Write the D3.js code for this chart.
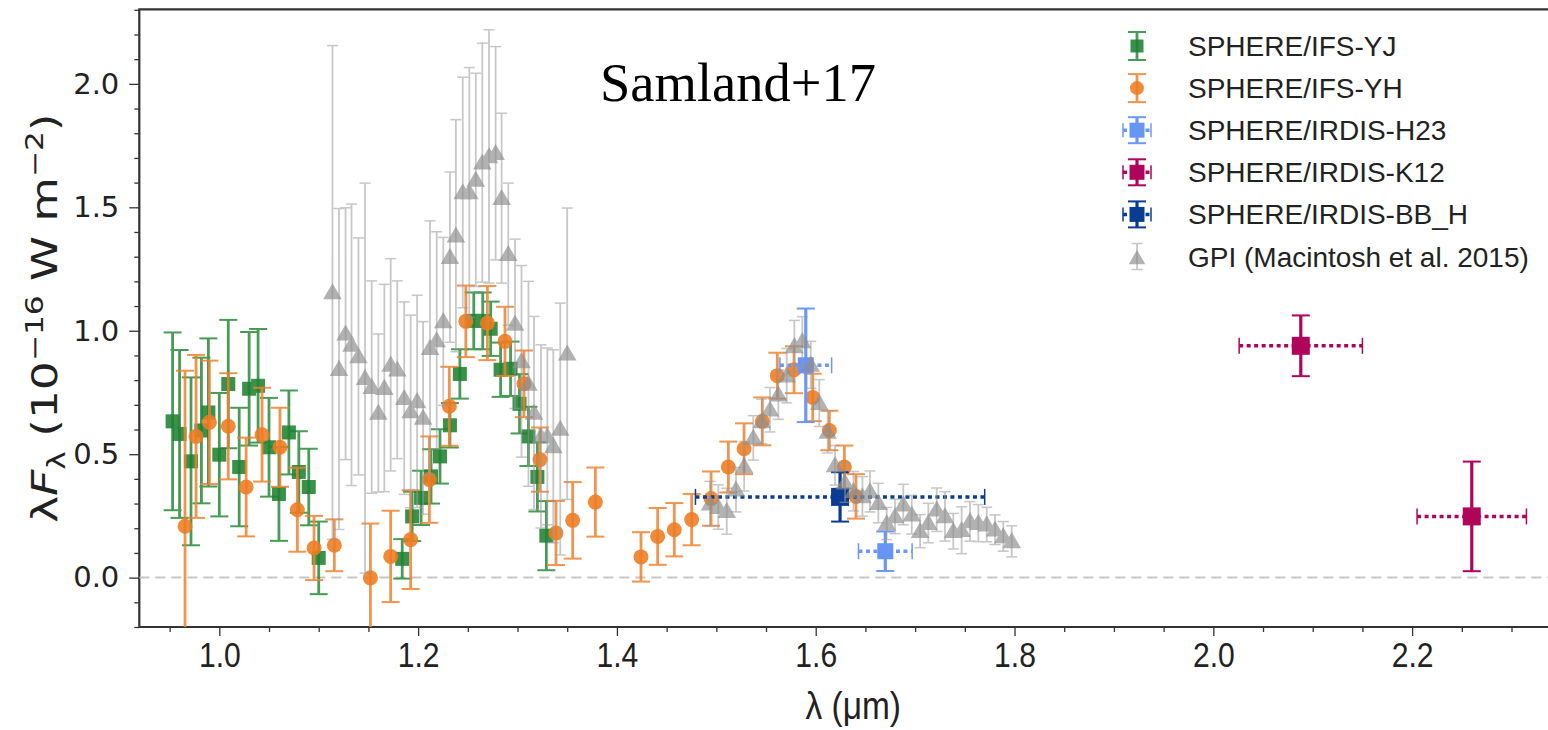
<!DOCTYPE html>
<html><head><meta charset="utf-8">
<script src="https://cdn.jsdelivr.net/npm/d3@7"></script>
<style>body{margin:0;background:#fff}svg{display:block}</style>
</head><body>
<svg id="chart" width="1548" height="730"></svg>
<script>
// SPHERE/IFS-YJ
const yjWave = [0.953,0.960,0.9715,0.982,0.989,1.000,1.009,1.020,1.030,1.039,1.050,1.060,1.070,1.080,1.090,1.100,
  1.184,1.194,1.203,1.213,1.222,1.232,1.242,1.256,1.265,1.273,1.283,1.293,1.302,1.311,1.320,1.329];
const yjFlux = [0.633,0.582,0.471,0.596,0.669,0.498,0.784,0.448,0.765,0.777,0.528,0.339,0.588,0.428,0.367,0.080,
  0.076,0.248,0.323,0.410,0.491,0.617,0.825,1.040,1.040,1.008,0.842,0.846,0.704,0.572,0.408,0.170];
const yjErr = [0.36,0.34,0.34,0.295,0.30,0.25,0.26,0.24,0.23,0.23,0.20,0.19,0.17,0.165,0.155,0.147,
  0.08,0.10,0.11,0.11,0.11,0.09,0.10,0.115,0.115,0.11,0.11,0.11,0.12,0.12,0.14,0.14];

// SPHERE/IFS-YH
const yhWave = [0.9655,0.9766,0.990,1.009,1.027,1.043,1.061,1.0785,1.0953,1.1157,1.152,1.1724,1.1925,1.2113,
  1.2314,1.248,1.2697,1.2874,1.3065,1.3226,1.3387,1.3555,1.3783,1.4242,1.441,1.4577,1.4752,1.4947,1.5121,
  1.5279,1.5463,1.5614,1.5782,1.597,1.6137,1.6288,1.6405];
const yhFlux = [0.208,0.572,0.629,0.613,0.367,0.579,0.528,0.275,0.120,0.131,-0.001,0.086,0.154,0.397,
  0.694,1.038,1.031,0.957,0.785,0.478,0.181,0.232,0.306,0.084,0.167,0.194,0.235,0.320,0.448,
  0.522,0.633,0.818,0.842,0.730,0.596,0.448,0.329];
const yhErr = [0.63,0.33,0.25,0.215,0.20,0.19,0.16,0.17,0.13,0.105,0.22,0.185,0.20,0.175,
  0.16,0.145,0.15,0.14,0.135,0.13,0.13,0.155,0.14,0.10,0.115,0.108,0.104,0.11,0.103,
  0.103,0.097,0.093,0.095,0.096,0.08,0.087,0.09];

// SPHERE/IRDIS photometry (value, flux error, half filter width)
const h23Wave = [1.590,1.670], h23Flux = [0.860,0.107], h23Err = [0.23,0.08], h23Width = [0.026,0.027];
const k12Wave = [2.088,2.260], k12Flux = [0.939,0.248], k12Err = [0.123,0.222], k12Width = [0.062,0.055];
const bbhWave = [1.6245], bbhFlux = [0.327], bbhErr = [0.10], bbhWidth = [0.1455];

// GPI (Macintosh et al. 2015)
const gpiWave = [1.1138,1.1204,1.127,1.133,1.140,1.1466,1.1533,1.160,1.166,1.1724,1.179,1.186,1.1925,1.199,1.205,
  1.212,1.2187,1.2253,1.232,1.238,1.2449,1.2515,1.258,1.2646,1.2713,1.278,1.284,1.2907,1.2975,1.304,1.311,
  1.3166,1.3236,1.330,1.336,1.343,1.350,
  1.4937,1.502,1.5105,1.5198,1.528,1.5372,1.5457,1.554,1.5624,1.5708,1.5785,1.5865,1.595,1.6036,1.612,1.6194,
  1.6295,1.638,1.647,1.6546,1.663,1.6714,1.6798,1.6881,1.6966,1.705,1.7133,1.7217,1.730,1.7384,1.7468,1.7552,
  1.7636,1.772,1.7804,1.7887,1.7972];
const gpiFlux = [1.155,0.845,0.988,0.943,0.896,0.808,0.772,0.667,0.768,0.862,0.842,0.727,0.673,0.714,0.647,
  0.930,0.961,1.038,1.298,1.385,1.560,1.560,1.611,1.681,1.706,1.719,1.537,1.310,1.028,0.876,0.785,
  0.667,0.572,0.572,0.532,0.602,0.907,
  0.300,0.286,0.269,0.356,0.451,0.566,0.633,0.680,0.741,0.818,0.937,0.957,0.862,0.707,0.590,0.455,
  0.385,0.350,0.329,0.349,0.302,0.219,0.248,0.296,0.255,0.188,0.221,0.275,0.248,0.188,0.192,0.228,
  0.221,0.215,0.194,0.167,0.147];
const gpiErr = [1.00,0.65,0.51,0.57,0.48,0.79,0.43,0.32,0.42,0.43,0.36,0.39,0.39,0.43,0.39,
  0.515,0.44,0.34,0.345,0.47,0.467,0.506,0.432,0.484,0.513,0.432,0.344,0.288,0.343,0.388,0.415,
  0.391,0.371,0.358,0.391,0.51,0.59,
  0.09,0.09,0.093,0.09,0.10,0.09,0.09,0.09,0.10,0.11,0.105,0.10,0.095,0.095,0.085,0.08,
  0.08,0.08,0.08,0.083,0.08,0.065,0.07,0.082,0.078,0.067,0.08,0.088,0.10,0.072,0.095,0.08,
  0.075,0.07,0.06,0.06,0.063];

const legendLabels = ["SPHERE/IFS-YJ","SPHERE/IFS-YH","SPHERE/IRDIS-H23","SPHERE/IRDIS-K12","SPHERE/IRDIS-BB_H","GPI (Macintosh et al. 2015)"];
const xTicks = [1.0,1.2,1.4,1.6,1.8,2.0,2.2];
const yTicks = [0.0,0.5,1.0,1.5,2.0];

(function () {
const svg = d3.select("#chart");
const pLeft = 139.3, pTop = 9.3, pBottom = 627;
const x = d3.scaleLinear().domain([0.9195, 2.356]).range([pLeft, pLeft + (2.356 - 0.9195) * 994]);
const y = d3.scaleLinear().domain([-0.2, 2.302]).range([pBottom, pTop]);
const pRight = x.range()[1];

svg.append("defs").append("clipPath").attr("id", "plotclip")
  .append("rect").attr("x", pLeft).attr("y", pTop).attr("width", pRight - pLeft).attr("height", pBottom - pTop);

// axes
const fmt = d3.format(".1f");
const xMinor = d3.range(0.95, 2.356, 0.05).filter(v => !xTicks.some(t => Math.abs(t - v) < 1e-6));
const yMinor = d3.range(-0.2, 2.31, 0.1).filter(v => !yTicks.some(t => Math.abs(t - v) < 1e-6));

const gx = svg.append("g").attr("transform", `translate(0,${pBottom})`);
gx.call(d3.axisBottom(x).tickValues(xTicks).tickFormat(fmt).tickSize(9).tickPadding(6));
gx.append("g").call(d3.axisBottom(x).tickValues(xMinor).tickFormat("").tickSize(5));
gx.selectAll(".domain").remove();
gx.selectAll("line").attr("stroke", "#333").attr("stroke-width", 1.3);
gx.selectAll("text").attr("font-family", "Liberation Sans, Arial, sans-serif").attr("font-size", 35)
  .attr("fill", "#222").attr("transform", "scale(0.86,1)");

const gy = svg.append("g").attr("transform", `translate(${pLeft},0)`);
gy.call(d3.axisLeft(y).tickValues(yTicks).tickFormat(fmt).tickSize(10).tickPadding(10));
gy.append("g").call(d3.axisLeft(y).tickValues(yMinor).tickFormat("").tickSize(5));
gy.selectAll(".domain").remove();
gy.selectAll("line").attr("stroke", "#333").attr("stroke-width", 1.3);
gy.selectAll("text").attr("font-family", "DejaVu Sans, sans-serif").attr("font-size", 29).attr("fill", "#222");

// frame (right edge runs past the canvas)
svg.append("path")
  .attr("d", `M${pRight + 20},${pTop}H${pLeft}V${pBottom}H${pRight + 20}`)
  .attr("fill", "none").attr("stroke", "#333").attr("stroke-width", 2.2);

const plot = svg.append("g").attr("clip-path", "url(#plotclip)");

// zero level
plot.append("line").attr("x1", pLeft).attr("x2", pRight).attr("y1", y(0)).attr("y2", y(0))
  .attr("stroke", "#c6c6c6").attr("stroke-width", 2).attr("stroke-dasharray", "10,6");

function zip(w, f, e, xe) {
  return w.map((d, i) => ({ l: d, v: f[i], e: e[i], xe: xe ? xe[i] : 0 }));
}

function errorbars(g, data, o) {
  const eg = g.append("g").attr("opacity", o.opacity);
  eg.selectAll(".ev").data(data).join("line")
    .attr("x1", d => x(d.l)).attr("x2", d => x(d.l))
    .attr("y1", d => y(d.v - d.e)).attr("y2", d => y(d.v + d.e))
    .attr("stroke", o.ecolor).attr("stroke-width", o.ew);
  [1, -1].forEach(s => {
    eg.append("g").selectAll("line").data(data).join("line")
      .attr("x1", d => x(d.l) - o.cap).attr("x2", d => x(d.l) + o.cap)
      .attr("y1", d => y(d.v + s * d.e)).attr("y2", d => y(d.v + s * d.e))
      .attr("stroke", o.ecolor).attr("stroke-width", o.capw);
  });
  const hx = data.filter(d => d.xe > 0);
  eg.append("g").selectAll("line").data(hx).join("line")
    .attr("x1", d => x(d.l - d.xe)).attr("x2", d => x(d.l + d.xe))
    .attr("y1", d => y(d.v)).attr("y2", d => y(d.v))
    .attr("stroke", o.ecolor).attr("stroke-width", 3.5).attr("stroke-dasharray", "4,3.5");
  [1, -1].forEach(s => {
    eg.append("g").selectAll("line").data(hx).join("line")
      .attr("x1", d => x(d.l + s * d.xe)).attr("x2", d => x(d.l + s * d.xe))
      .attr("y1", d => y(d.v) - 8).attr("y2", d => y(d.v) + 8)
      .attr("stroke", o.ecolor).attr("stroke-width", 1.5);
  });
}

function markers(g, data, o) {
  const mg = g.append("g").attr("opacity", o.mopacity);
  if (o.shape === "square") {
    mg.selectAll("rect").data(data).join("rect")
      .attr("x", d => x(d.l) - o.size / 2).attr("y", d => y(d.v) - o.size / 2)
      .attr("width", o.size).attr("height", o.size).attr("fill", o.color);
  } else if (o.shape === "circle") {
    mg.selectAll("circle").data(data).join("circle")
      .attr("cx", d => x(d.l)).attr("cy", d => y(d.v)).attr("r", o.size / 2).attr("fill", o.color);
  } else {
    const tri = d3.symbol().type(d3.symbolTriangle).size(o.size * o.size * 0.55);
    mg.selectAll("path").data(data).join("path")
      .attr("transform", d => `translate(${x(d.l)},${y(d.v) + 1.5})`)
      .attr("d", tri).attr("fill", o.color);
  }
}

const styles = [
  { data: zip(yjWave, yjFlux, yjErr), shape: "square", size: 14, color: "#1f8232", ecolor: "#2a8a3b", ew: 2.8, cap: 9, capw: 2, opacity: 0.85, mopacity: 0.88 },
  { data: zip(yhWave, yhFlux, yhErr), shape: "circle", size: 15, color: "#ee7c22", ecolor: "#ee8230", ew: 2.8, cap: 9, capw: 2, opacity: 0.85, mopacity: 0.88 },
  { data: zip(h23Wave, h23Flux, h23Err, h23Width), shape: "square", size: 16, color: "#6795f5", ecolor: "#6b98f4", ew: 3.2, cap: 9, capw: 2, opacity: 1, mopacity: 1 },
  { data: zip(k12Wave, k12Flux, k12Err, k12Width), shape: "square", size: 18, color: "#b0045a", ecolor: "#b0045a", ew: 3.2, cap: 9, capw: 2, opacity: 1, mopacity: 1 },
  { data: zip(bbhWave, bbhFlux, bbhErr, bbhWidth), shape: "square", size: 18, color: "#0a3d91", ecolor: "#0a3d91", ew: 3.2, cap: 9, capw: 2, opacity: 1, mopacity: 1 },
  { data: zip(gpiWave, gpiFlux, gpiErr), shape: "triangle", size: 16.5, color: "#8e8e8e", ecolor: "#9a9a9a", ew: 1.8, cap: 5.5, capw: 1.5, opacity: 0.55, mopacity: 0.68 }
];

styles.forEach(s => {
  const g = plot.append("g");
  errorbars(g, s.data, s);
  markers(g, s.data, s);
});

// legend
const lx = 1137, ly0 = 46, lstep = 42.1;
const legend = svg.append("g");
styles.forEach((s, i) => {
  const cy = ly0 + i * lstep;
  const g = legend.append("g").attr("transform", `translate(${lx},${cy})`);
  const gv = g.append("g").attr("opacity", s.opacity);
  const vlen = i < 2 ? 14 : 13;
  gv.append("line").attr("x1", 0).attr("x2", 0).attr("y1", -vlen).attr("y2", vlen).attr("stroke", s.ecolor).attr("stroke-width", s.ew);
  [-vlen, vlen].forEach(yy => gv.append("line").attr("x1", -s.cap).attr("x2", s.cap).attr("y1", yy).attr("y2", yy)
    .attr("stroke", s.ecolor).attr("stroke-width", s.capw));
  if (i >= 2 && i <= 4) {
    gv.append("line").attr("x1", -14).attr("x2", 14).attr("y1", 0).attr("y2", 0)
      .attr("stroke", s.ecolor).attr("stroke-width", 3.5).attr("stroke-dasharray", "4,3.5");
    [-14, 14].forEach(xx => gv.append("line").attr("x1", xx).attr("x2", xx).attr("y1", -7).attr("y2", 7)
      .attr("stroke", s.ecolor).attr("stroke-width", 1.5));
  }
  const mg = g.append("g").attr("opacity", s.mopacity);
  if (s.shape === "square") {
    const sz = i < 2 ? 13 : 15;
    mg.append("rect").attr("x", -sz / 2).attr("y", -sz / 2).attr("width", sz).attr("height", sz).attr("fill", s.color);
  } else if (s.shape === "circle") {
    mg.append("circle").attr("r", 7).attr("fill", s.color);
  } else {
    mg.append("path").attr("transform", "translate(0,3)").attr("d", d3.symbol().type(d3.symbolTriangle).size(120)()).attr("fill", s.color);
  }
  legend.append("text").attr("x", 1188).attr("y", cy + 10)
    .attr("font-family", "Liberation Sans, Arial, sans-serif").attr("font-size", 28).attr("fill", "#222")
    .text(legendLabels[i]);
});

// annotation
svg.append("text").attr("x", 600).attr("y", 101)
  .attr("font-family", "Liberation Serif, Times New Roman, serif").attr("font-size", 54.5).attr("fill", "#000")
  .text("Samland+17");

// axis titles
svg.append("text").attr("transform", `translate(${(pLeft + pRight) / 2},719) scale(0.88,1)`).attr("text-anchor", "middle")
  .attr("font-family", "Liberation Sans, Arial, sans-serif").attr("font-size", 38).attr("fill", "#222")
  .text("λ (μm)");

const yt = svg.append("text").attr("transform", `translate(57,${(pTop + pBottom) / 2}) rotate(-90) scale(1.3,1)`)
  .attr("text-anchor", "middle").attr("font-family", "DejaVu Sans, sans-serif").attr("font-size", 35).attr("fill", "#222");
yt.append("tspan").text("λ");
yt.append("tspan").attr("font-style", "italic").text("F");
yt.append("tspan").attr("font-size", 24).attr("dy", 8).text("λ");
yt.append("tspan").attr("dy", -8).text(" (10");
yt.append("tspan").attr("font-size", 24).attr("dy", -14).text("−16");
yt.append("tspan").attr("dy", 14).text(" W m");
yt.append("tspan").attr("font-size", 24).attr("dy", -14).text("−2");
yt.append("tspan").attr("dy", 14).text(")");
})();
</script>
</body></html>
